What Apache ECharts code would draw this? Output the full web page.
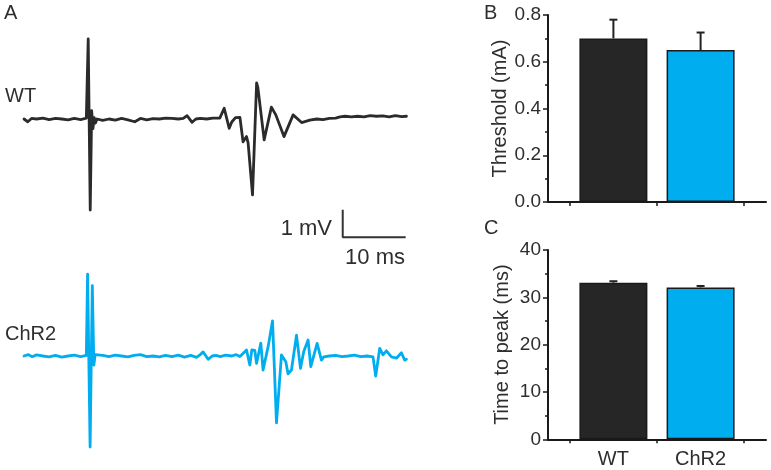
<!DOCTYPE html>
<html>
<head>
<meta charset="utf-8">
<script src="https://cdn.jsdelivr.net/npm/echarts@6/dist/echarts.min.js"></script>
<style>
html,body{margin:0;padding:0;background:#fff;}
#c{width:771px;height:470px;}
</style>
</head>
<body>
<div id="c"></div>
<script>
// ---- Panel A: extracellular traces (time in ms, amplitude in mV) ----
var wtTrace = [
  [0,0],[0.6,-0.1],[1.2,0.02],[2,0],[3,0.03],[4,-0.02],[5,0.02],[6,0],[7,-0.03],[8,0.02],[9,-0.02],[9.9,0.03],
  [10.2,2.91],[10.52,-3.31],[10.75,0.3],[10.95,-0.35],[11.15,0.05],[11.35,-0.15],[11.6,0],
  [12.5,-0.05],[13.5,0],[14.5,-0.04],[15.5,0.02],[16.5,-0.03],[17.6,-0.1],[18.5,0.02],[19.5,-0.03],[20.5,0.01],
  [21.5,0],[22.5,0.03],[23.5,0.02],[24.5,0],[25.3,0.02],[25.9,0.12],[26.7,-0.12],[27.3,0],[28,0.02],[29,0],[30,0.03],
  [31.1,0.03],[31.8,0.39],[32.6,-0.34],[33.0,-0.11],[33.6,0.05],[34.3,0.06],[34.8,-0.83],[35.35,-0.64],[35.6,-0.87],
  [36.3,-2.76],[36.95,1.31],[37.15,1.15],[38.15,-0.76],[39.3,0.43],[40.0,0.15],[41.3,-0.64],[42.75,0.15],[44.1,-0.13],
  [45.4,-0.04],[46.5,0],[47.5,-0.02],[48.5,0.02],[49.5,0.03],[50.2,0.08],[51,0.1],[52,0.08],[53,0.1],[54,0.08],
  [55,0.12],[56,0.1],[57,0.11],[58,0.08],[59,0.12],[60,0.09],[60.75,0.1]
];
var chr2Trace = [
  [0,0],[0.7,0.05],[1.3,-0.03],[2,0.04],[3,0],[4,-0.03],[5,0.02],[6,-0.04],[7,0],[8,0.03],[9,-0.02],[9.9,0.02],
  [10.1,2.98],[10.25,2.98],[10.5,-3.31],[10.85,2.56],[11.1,-0.33],[11.3,0.05],[11.6,-0.02],
  [12.5,0.02],[13.5,-0.02],[14.5,0.03],[15.5,0],[16.5,-0.03],[17.5,0.02],[18.5,0.05],[19.5,-0.02],[20.5,0],
  [21.5,-0.03],[22.5,0.02],[23.5,-0.02],[24.5,0.03],[25.5,-0.04],[26.5,0.02],[27.4,-0.05],[27.9,0.03],[28.45,0.15],
  [29.25,-0.12],[29.9,0],[30.5,0.02],[31.2,-0.02],[32,0.03],[33,0],[33.7,0.05],[34.3,-0.02],[35.35,0.22],[35.87,-0.33],
  [36.19,0.22],[36.67,0.2],[36.94,-0.27],[37.62,0.47],[37.98,-0.51],[38.78,0.34],[39.48,1.28],[40.11,-2.43],[40.9,0.04],
  [41.59,-0.21],[41.95,-0.65],[42.49,-0.51],[43.29,0.76],[43.92,-0.45],[44.44,0.16],[45.13,0.58],[45.56,-0.39],
  [46.56,0.46],[47.25,-0.15],[47.62,-0.03],[48.5,0],[49.5,0.02],[50.5,-0.02],[51.5,0],[52.5,0.03],[53.5,-0.02],
  [54.5,0],[55.44,-0.03],[55.87,-0.73],[56.51,0.28],[57.03,0.04],[57.57,0.19],[58.37,-0.03],[59.16,-0.08],
  [59.95,0.12],[60.48,-0.15],[60.75,-0.12]
];
// scale bar: 10 ms x 1 mV, corner at (50.63 ms, -4.30 mV)
var scaleBarMs = 10;
var scaleBarMv = 1;
var scaleBarCorner = [50.63, -4.30];

// ---- Panels B and C: bar charts ----
var groups = ['WT', 'ChR2'];
var groupPos = [1, 2];
var thresholdMean = [0.70, 0.65];
var thresholdSem = [0.08, 0.075];
var peakTimeMean = [33.1, 32.1];
var peakTimeSem = [0.3, 0.3];
var thresholdTicks = [0, 0.2, 0.4, 0.6, 0.8];
var peakTimeTicks = [0, 10, 20, 30, 40];
var categoryBoundaries = [0.5, 1.5, 2.5];

var DARK = '#262626';
var BLUE = '#00aeef';
var TXT = '#2e2e2e';
var FONT = "'Liberation Sans', Arial, Helvetica, sans-serif";

var chart = echarts.init(document.getElementById('c'), null, {renderer: 'canvas'});

function barData(means) {
  return means.map(function (m, i) {
    return {
      value: [groupPos[i], m],
      itemStyle: {color: i === 0 ? DARK : BLUE, borderColor: '#1a1a1a', borderWidth: 1.5}
    };
  });
}
function errData(means, sems) {
  return means.map(function (m, i) { return [groupPos[i], m, sems[i]]; });
}
function errRender(params, api) {
  var x = api.value(0), m = api.value(1), e = api.value(2);
  var p0 = api.coord([x, m]);
  var p1 = api.coord([x, m + e]);
  var hw = 4;
  return {
    type: 'group',
    children: [
      {type: 'line', shape: {x1: p0[0], y1: p0[1], x2: p1[0], y2: p1[1]}, style: {stroke: '#222', lineWidth: 2}},
      {type: 'line', shape: {x1: p1[0] - hw, y1: p1[1], x2: p1[0] + hw, y2: p1[1]}, style: {stroke: '#222', lineWidth: 2}}
    ]
  };
}

function traceX(gi) {
  return {type: 'value', gridIndex: gi, min: 0, max: 61, show: false};
}
function traceY(gi, mn, mx) {
  return {type: 'value', gridIndex: gi, min: mn, max: mx, show: false};
}
function barX(gi, showLabels) {
  return {
    type: 'value', gridIndex: gi, min: 0.25, max: 2.75,
    splitLine: {show: false},
    axisLine: {show: true, lineStyle: {color: '#1a1a1a', width: 2}},
    axisTick: {show: true, customValues: categoryBoundaries, length: 4, lineStyle: {color: '#1a1a1a', width: 1.5}},
    axisLabel: {
      show: showLabels, customValues: groupPos, margin: 10,
      color: TXT, fontSize: 20, fontFamily: FONT,
      formatter: function (v) { var i = groupPos.indexOf(v); return i >= 0 ? groups[i] : ''; }
    }
  };
}
function barY(gi, ticks, name, digits) {
  return {
    type: 'value', gridIndex: gi, min: ticks[0], max: ticks[ticks.length - 1],
    interval: ticks[1] - ticks[0],
    name: name, nameLocation: 'middle', nameGap: 36,
    nameTextStyle: {color: TXT, fontSize: 20, fontFamily: FONT},
    splitLine: {show: false},
    axisLine: {show: true, lineStyle: {color: '#1a1a1a', width: 2}},
    axisTick: {show: true, length: 5, lineStyle: {color: '#1a1a1a', width: 1.5}},
    minorTick: {show: true, splitNumber: 2, length: 3, lineStyle: {color: '#1a1a1a', width: 1.5}},
    axisLabel: {
      color: TXT, fontSize: 19, fontFamily: FONT, margin: 7,
      formatter: function (v) { return v.toFixed(digits); }
    }
  };
}

var option = {
  animation: false,
  backgroundColor: '#ffffff',
  textStyle: {fontFamily: FONT},
  grid: [
    {left: 24, top: 22.75, width: 384, height: 233.75},
    {left: 24, top: 259.75, width: 384, height: 206.25},
    {left: 548, right: 5, top: 15, height: 187},
    {left: 548, right: 5, top: 250, height: 189.3}
  ],
  xAxis: [traceX(0), traceX(1), barX(2, false), barX(3, true)],
  yAxis: [traceY(0, -5, 3.5), traceY(1, -4, 3.5),
          barY(2, thresholdTicks, 'Threshold (mA)', 1),
          barY(3, peakTimeTicks, 'Time to peak (ms)', 0)],
  series: [
    {type: 'line', xAxisIndex: 0, yAxisIndex: 0, data: wtTrace, showSymbol: false,
     lineStyle: {color: '#2b2b2b', width: 2.8, join: 'round', cap: 'round'}},
    {type: 'line', xAxisIndex: 0, yAxisIndex: 0,
     data: [[scaleBarCorner[0], scaleBarCorner[1] + scaleBarMv], scaleBarCorner,
            [scaleBarCorner[0] + scaleBarMs, scaleBarCorner[1]]],
     showSymbol: false, lineStyle: {color: '#333', width: 2}},
    {type: 'line', xAxisIndex: 1, yAxisIndex: 1, data: chr2Trace, showSymbol: false,
     lineStyle: {color: BLUE, width: 2.8, join: 'round', cap: 'round'}},
    {type: 'bar', xAxisIndex: 2, yAxisIndex: 2, data: barData(thresholdMean), barWidth: 68},
    {type: 'custom', xAxisIndex: 2, yAxisIndex: 2, data: errData(thresholdMean, thresholdSem), renderItem: errRender, z: 3},
    {type: 'bar', xAxisIndex: 3, yAxisIndex: 3, data: barData(peakTimeMean), barWidth: 68},
    {type: 'custom', xAxisIndex: 3, yAxisIndex: 3, data: errData(peakTimeMean, peakTimeSem), renderItem: errRender, z: 3}
  ],
  graphic: [
    {type: 'text', left: 4, top: 3, style: {text: 'A', fill: TXT, font: '20px ' + FONT}},
    {type: 'text', left: 484, top: 3, style: {text: 'B', fill: TXT, font: '20px ' + FONT}},
    {type: 'text', left: 484, top: 218, style: {text: 'C', fill: TXT, font: '20px ' + FONT}},
    {type: 'text', left: 5, top: 86, style: {text: 'WT', fill: TXT, font: '20px ' + FONT}},
    {type: 'text', left: 5, top: 324, style: {text: 'ChR2', fill: TXT, font: '20px ' + FONT}},
    {type: 'text', x: 332, y: 229, style: {text: '1 mV', fill: TXT, font: '22px ' + FONT, textAlign: 'right', textVerticalAlign: 'middle'}},
    {type: 'text', x: 375, y: 257.5, style: {text: '10 ms', fill: TXT, font: '22px ' + FONT, textAlign: 'center', textVerticalAlign: 'middle'}}
  ]
};
chart.setOption(option);
</script>
</body>
</html>
